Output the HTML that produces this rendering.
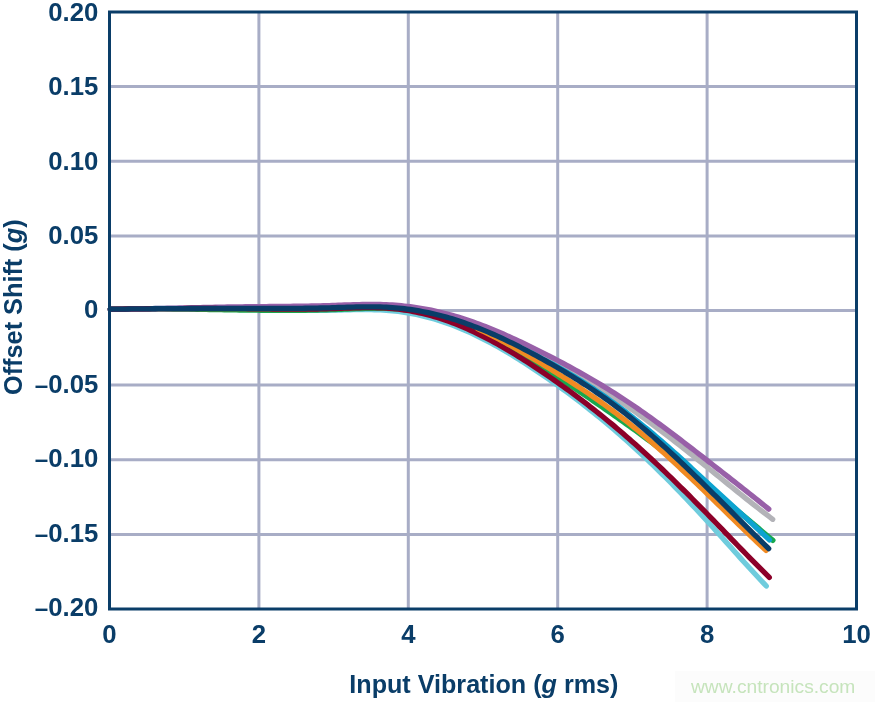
<!DOCTYPE html>
<html lang="en">
<head>
<meta charset="utf-8">
<title>Offset Shift vs Input Vibration</title>
<style>
html,body{margin:0;padding:0;background:#fff;}
body{width:875px;height:702px;overflow:hidden;position:relative;}
svg{position:absolute;left:0;top:0;display:block;}
text{font-family:"Liberation Sans",Arial,Helvetica,sans-serif;font-weight:bold;fill:#0a3d68;}
.wm{font-weight:normal;fill:#c6e4bc;}
</style>
</head>
<body>
<svg width="875" height="702" viewBox="0 0 875 702">
<rect x="0" y="0" width="875" height="702" fill="#ffffff"/>
<rect x="675" y="671" width="200" height="31" fill="#fcfcfc"/>
<g stroke="#a8adc6" stroke-width="3" fill="none">
<line x1="258.9" y1="12.0" x2="258.9" y2="609.0"/>
<line x1="408.3" y1="12.0" x2="408.3" y2="609.0"/>
<line x1="557.7" y1="12.0" x2="557.7" y2="609.0"/>
<line x1="707.1" y1="12.0" x2="707.1" y2="609.0"/>
<line x1="109.5" y1="86.6" x2="856.5" y2="86.6"/>
<line x1="109.5" y1="161.2" x2="856.5" y2="161.2"/>
<line x1="109.5" y1="235.9" x2="856.5" y2="235.9"/>
<line x1="109.5" y1="310.5" x2="856.5" y2="310.5"/>
<line x1="109.5" y1="385.1" x2="856.5" y2="385.1"/>
<line x1="109.5" y1="459.8" x2="856.5" y2="459.8"/>
<line x1="109.5" y1="534.4" x2="856.5" y2="534.4"/>
</g>
<g fill="none" stroke-width="5.3" stroke-linecap="round" stroke-linejoin="round">
<path stroke="#6fccdd" d="M110.3,309.20 L113.3,309.12 L116.3,309.06 L119.3,308.99 L122.3,308.93 L125.3,308.87 L128.3,308.82 L131.3,308.77 L134.3,308.72 L137.3,308.68 L140.3,308.64 L143.3,308.61 L146.3,308.58 L149.3,308.55 L152.3,308.53 L155.3,308.51 L158.3,308.49 L161.3,308.48 L164.3,308.47 L167.3,308.47 L170.3,308.46 L173.3,308.46 L176.3,308.47 L179.3,308.47 L182.3,308.48 L185.3,308.50 L188.3,308.51 L191.3,308.53 L194.3,308.55 L197.3,308.58 L200.3,308.60 L203.3,308.63 L206.3,308.66 L209.3,308.70 L212.3,308.74 L215.3,308.77 L218.3,308.82 L221.3,308.86 L224.3,308.91 L227.3,308.95 L230.3,309.00 L233.3,309.06 L236.3,309.11 L239.3,309.17 L242.3,309.22 L245.3,309.28 L248.3,309.35 L251.3,309.41 L254.3,309.47 L257.3,309.54 L260.3,309.61 L263.3,309.67 L266.3,309.74 L269.3,309.80 L272.3,309.87 L275.3,309.93 L278.3,309.99 L281.3,310.05 L284.3,310.10 L287.3,310.15 L290.3,310.20 L293.3,310.24 L296.3,310.28 L299.3,310.31 L302.3,310.34 L305.3,310.36 L308.3,310.38 L311.3,310.38 L314.3,310.38 L317.3,310.37 L320.3,310.36 L323.3,310.33 L326.3,310.30 L329.3,310.25 L332.3,310.20 L335.3,310.13 L338.3,310.06 L341.3,309.99 L344.3,309.92 L347.3,309.85 L350.3,309.78 L353.3,309.72 L356.3,309.67 L359.3,309.64 L362.3,309.62 L365.3,309.61 L368.3,309.63 L371.3,309.67 L374.3,309.73 L377.3,309.83 L380.3,309.95 L383.3,310.11 L386.3,310.30 L389.3,310.53 L392.3,310.81 L395.3,311.12 L398.3,311.48 L401.3,311.87 L404.3,312.31 L407.3,312.80 L410.3,313.32 L413.3,313.89 L416.3,314.50 L419.3,315.15 L422.3,315.84 L425.3,316.57 L428.3,317.35 L431.3,318.17 L434.3,319.04 L437.3,319.94 L440.3,320.89 L443.3,321.88 L446.3,322.92 L449.3,323.99 L452.3,325.11 L455.3,326.27 L458.3,327.48 L461.3,328.72 L464.3,330.01 L467.3,331.33 L470.3,332.69 L473.3,334.09 L476.3,335.53 L479.3,337.00 L482.3,338.51 L485.3,340.05 L488.3,341.62 L491.3,343.23 L494.3,344.87 L497.3,346.54 L500.3,348.24 L503.3,349.96 L506.3,351.72 L509.3,353.51 L512.3,355.32 L515.3,357.16 L518.3,359.02 L521.3,360.91 L524.3,362.82 L527.3,364.75 L530.3,366.71 L533.3,368.69 L536.3,370.69 L539.3,372.70 L542.3,374.74 L545.3,376.79 L548.3,378.87 L551.3,380.96 L554.3,383.07 L557.3,385.21 L560.3,387.36 L563.3,389.53 L566.3,391.73 L569.3,393.94 L572.3,396.17 L575.3,398.43 L578.3,400.71 L581.3,403.01 L584.3,405.33 L587.3,407.68 L590.3,410.05 L593.3,412.44 L596.3,414.85 L599.3,417.29 L602.3,419.75 L605.3,422.23 L608.3,424.74 L611.3,427.28 L614.3,429.84 L617.3,432.42 L620.3,435.03 L623.3,437.66 L626.3,440.32 L629.3,443.01 L632.3,445.72 L635.3,448.46 L638.3,451.23 L641.3,454.02 L644.3,456.84 L647.3,459.68 L650.3,462.54 L653.3,465.43 L656.3,468.35 L659.3,471.28 L662.3,474.24 L665.3,477.23 L668.3,480.23 L671.3,483.26 L674.3,486.31 L677.3,489.38 L680.3,492.48 L683.3,495.59 L686.3,498.73 L689.3,501.88 L692.3,505.06 L695.3,508.25 L698.3,511.46 L701.3,514.70 L704.3,517.95 L707.3,521.22 L710.3,524.50 L713.3,527.81 L716.3,531.13 L719.3,534.46 L722.3,537.80 L725.3,541.14 L728.3,544.49 L731.3,547.84 L734.3,551.19 L737.3,554.53 L740.3,557.87 L743.3,561.19 L746.3,564.50 L749.3,567.79 L752.3,571.06 L755.3,574.31 L758.3,577.54 L761.3,580.74 L764.3,583.90 L766.3,586.00"/>
<path stroke="#18a84e" d="M110.3,309.10 L113.3,309.05 L116.3,309.00 L119.3,308.96 L122.3,308.93 L125.3,308.90 L128.3,308.87 L131.3,308.85 L134.3,308.84 L137.3,308.83 L140.3,308.82 L143.3,308.82 L146.3,308.83 L149.3,308.83 L152.3,308.84 L155.3,308.86 L158.3,308.87 L161.3,308.89 L164.3,308.92 L167.3,308.94 L170.3,308.97 L173.3,309.00 L176.3,309.04 L179.3,309.07 L182.3,309.11 L185.3,309.15 L188.3,309.19 L191.3,309.24 L194.3,309.28 L197.3,309.33 L200.3,309.37 L203.3,309.42 L206.3,309.47 L209.3,309.52 L212.3,309.57 L215.3,309.61 L218.3,309.66 L221.3,309.71 L224.3,309.76 L227.3,309.81 L230.3,309.86 L233.3,309.90 L236.3,309.95 L239.3,309.99 L242.3,310.03 L245.3,310.08 L248.3,310.12 L251.3,310.15 L254.3,310.19 L257.3,310.22 L260.3,310.25 L263.3,310.28 L266.3,310.30 L269.3,310.33 L272.3,310.34 L275.3,310.36 L278.3,310.37 L281.3,310.37 L284.3,310.38 L287.3,310.37 L290.3,310.36 L293.3,310.35 L296.3,310.33 L299.3,310.31 L302.3,310.28 L305.3,310.24 L308.3,310.20 L311.3,310.15 L314.3,310.09 L317.3,310.03 L320.3,309.95 L323.3,309.87 L326.3,309.79 L329.3,309.69 L332.3,309.59 L335.3,309.48 L338.3,309.37 L341.3,309.25 L344.3,309.13 L347.3,309.01 L350.3,308.89 L353.3,308.78 L356.3,308.68 L359.3,308.58 L362.3,308.50 L365.3,308.42 L368.3,308.36 L371.3,308.32 L374.3,308.29 L377.3,308.29 L380.3,308.31 L383.3,308.35 L386.3,308.41 L389.3,308.51 L392.3,308.63 L395.3,308.79 L398.3,308.97 L401.3,309.19 L404.3,309.45 L407.3,309.74 L410.3,310.07 L413.3,310.44 L416.3,310.85 L419.3,311.30 L422.3,311.80 L425.3,312.33 L428.3,312.92 L431.3,313.55 L434.3,314.22 L437.3,314.95 L440.3,315.73 L443.3,316.56 L446.3,317.45 L449.3,318.38 L452.3,319.38 L455.3,320.43 L458.3,321.53 L461.3,322.68 L464.3,323.89 L467.3,325.14 L470.3,326.44 L473.3,327.79 L476.3,329.17 L479.3,330.60 L482.3,332.07 L485.3,333.58 L488.3,335.12 L491.3,336.70 L494.3,338.31 L497.3,339.96 L500.3,341.63 L503.3,343.34 L506.3,345.06 L509.3,346.82 L512.3,348.60 L515.3,350.39 L518.3,352.21 L521.3,354.05 L524.3,355.90 L527.3,357.77 L530.3,359.65 L533.3,361.55 L536.3,363.45 L539.3,365.36 L542.3,367.28 L545.3,369.21 L548.3,371.14 L551.3,373.07 L554.3,375.02 L557.3,376.97 L560.3,378.93 L563.3,380.89 L566.3,382.86 L569.3,384.84 L572.3,386.83 L575.3,388.82 L578.3,390.83 L581.3,392.84 L584.3,394.85 L587.3,396.88 L590.3,398.91 L593.3,400.95 L596.3,403.00 L599.3,405.06 L602.3,407.13 L605.3,409.21 L608.3,411.29 L611.3,413.38 L614.3,415.49 L617.3,417.60 L620.3,419.72 L623.3,421.85 L626.3,423.99 L629.3,426.14 L632.3,428.30 L635.3,430.47 L638.3,432.65 L641.3,434.84 L644.3,437.04 L647.3,439.25 L650.3,441.47 L653.3,443.70 L656.3,445.94 L659.3,448.20 L662.3,450.46 L665.3,452.73 L668.3,455.01 L671.3,457.31 L674.3,459.61 L677.3,461.93 L680.3,464.25 L683.3,466.59 L686.3,468.94 L689.3,471.30 L692.3,473.67 L695.3,476.05 L698.3,478.44 L701.3,480.85 L704.3,483.26 L707.3,485.69 L710.3,488.13 L713.3,490.58 L716.3,493.04 L719.3,495.51 L722.3,497.99 L725.3,500.48 L728.3,502.97 L731.3,505.47 L734.3,507.98 L737.3,510.49 L740.3,513.01 L743.3,515.53 L746.3,518.05 L749.3,520.58 L752.3,523.10 L755.3,525.63 L758.3,528.15 L761.3,530.68 L764.3,533.20 L767.3,535.71 L770.3,538.23 L772.9,540.40"/>
<path stroke="#b3b3b8" d="M110.3,309.21 L113.3,309.19 L116.3,309.16 L119.3,309.13 L122.3,309.11 L125.3,309.08 L128.3,309.06 L131.3,309.03 L134.3,309.01 L137.3,308.98 L140.3,308.95 L143.3,308.93 L146.3,308.90 L149.3,308.88 L152.3,308.85 L155.3,308.82 L158.3,308.80 L161.3,308.77 L164.3,308.75 L167.3,308.72 L170.3,308.69 L173.3,308.67 L176.3,308.64 L179.3,308.61 L182.3,308.59 L185.3,308.56 L188.3,308.54 L191.3,308.51 L194.3,308.48 L197.3,308.46 L200.3,308.43 L203.3,308.40 L206.3,308.38 L209.3,308.35 L212.3,308.32 L215.3,308.30 L218.3,308.27 L221.3,308.24 L224.3,308.21 L227.3,308.19 L230.3,308.16 L233.3,308.13 L236.3,308.11 L239.3,308.08 L242.3,308.05 L245.3,308.02 L248.3,308.00 L251.3,307.97 L254.3,307.94 L257.3,307.91 L260.3,307.89 L263.3,307.86 L266.3,307.83 L269.3,307.79 L272.3,307.76 L275.3,307.73 L278.3,307.69 L281.3,307.65 L284.3,307.61 L287.3,307.57 L290.3,307.52 L293.3,307.47 L296.3,307.42 L299.3,307.37 L302.3,307.31 L305.3,307.25 L308.3,307.18 L311.3,307.11 L314.3,307.04 L317.3,306.96 L320.3,306.87 L323.3,306.79 L326.3,306.69 L329.3,306.59 L332.3,306.49 L335.3,306.38 L338.3,306.27 L341.3,306.16 L344.3,306.05 L347.3,305.94 L350.3,305.84 L353.3,305.75 L356.3,305.67 L359.3,305.60 L362.3,305.54 L365.3,305.50 L368.3,305.47 L371.3,305.46 L374.3,305.48 L377.3,305.52 L380.3,305.58 L383.3,305.67 L386.3,305.79 L389.3,305.94 L392.3,306.12 L395.3,306.34 L398.3,306.59 L401.3,306.87 L404.3,307.18 L407.3,307.53 L410.3,307.91 L413.3,308.33 L416.3,308.78 L419.3,309.26 L422.3,309.77 L425.3,310.32 L428.3,310.90 L431.3,311.52 L434.3,312.16 L437.3,312.84 L440.3,313.56 L443.3,314.30 L446.3,315.08 L449.3,315.89 L452.3,316.74 L455.3,317.61 L458.3,318.52 L461.3,319.47 L464.3,320.44 L467.3,321.44 L470.3,322.47 L473.3,323.53 L476.3,324.62 L479.3,325.74 L482.3,326.88 L485.3,328.05 L488.3,329.25 L491.3,330.48 L494.3,331.72 L497.3,333.00 L500.3,334.30 L503.3,335.62 L506.3,336.96 L509.3,338.32 L512.3,339.71 L515.3,341.12 L518.3,342.55 L521.3,344.00 L524.3,345.47 L527.3,346.95 L530.3,348.46 L533.3,349.98 L536.3,351.52 L539.3,353.08 L542.3,354.65 L545.3,356.24 L548.3,357.85 L551.3,359.47 L554.3,361.10 L557.3,362.76 L560.3,364.43 L563.3,366.12 L566.3,367.82 L569.3,369.54 L572.3,371.28 L575.3,373.03 L578.3,374.81 L581.3,376.60 L584.3,378.40 L587.3,380.23 L590.3,382.07 L593.3,383.93 L596.3,385.81 L599.3,387.71 L602.3,389.63 L605.3,391.56 L608.3,393.51 L611.3,395.49 L614.3,397.48 L617.3,399.49 L620.3,401.52 L623.3,403.56 L626.3,405.63 L629.3,407.72 L632.3,409.83 L635.3,411.95 L638.3,414.10 L641.3,416.26 L644.3,418.44 L647.3,420.64 L650.3,422.85 L653.3,425.08 L656.3,427.33 L659.3,429.59 L662.3,431.86 L665.3,434.15 L668.3,436.45 L671.3,438.77 L674.3,441.09 L677.3,443.43 L680.3,445.78 L683.3,448.13 L686.3,450.50 L689.3,452.88 L692.3,455.26 L695.3,457.66 L698.3,460.06 L701.3,462.47 L704.3,464.88 L707.3,467.30 L710.3,469.73 L713.3,472.16 L716.3,474.59 L719.3,477.02 L722.3,479.46 L725.3,481.89 L728.3,484.33 L731.3,486.76 L734.3,489.18 L737.3,491.60 L740.3,494.02 L743.3,496.42 L746.3,498.82 L749.3,501.20 L752.3,503.58 L755.3,505.94 L758.3,508.28 L761.3,510.61 L764.3,512.93 L767.3,515.22 L770.3,517.50 L772.7,519.30"/>
<path stroke="#9860a8" d="M110.3,309.38 L113.3,309.33 L116.3,309.28 L119.3,309.23 L122.3,309.17 L125.3,309.12 L128.3,309.06 L131.3,309.01 L134.3,308.95 L137.3,308.89 L140.3,308.83 L143.3,308.77 L146.3,308.70 L149.3,308.64 L152.3,308.58 L155.3,308.51 L158.3,308.45 L161.3,308.38 L164.3,308.32 L167.3,308.25 L170.3,308.18 L173.3,308.12 L176.3,308.05 L179.3,307.98 L182.3,307.92 L185.3,307.85 L188.3,307.79 L191.3,307.72 L194.3,307.66 L197.3,307.60 L200.3,307.53 L203.3,307.47 L206.3,307.41 L209.3,307.35 L212.3,307.29 L215.3,307.24 L218.3,307.18 L221.3,307.13 L224.3,307.07 L227.3,307.02 L230.3,306.97 L233.3,306.92 L236.3,306.88 L239.3,306.83 L242.3,306.79 L245.3,306.75 L248.3,306.71 L251.3,306.68 L254.3,306.65 L257.3,306.62 L260.3,306.59 L263.3,306.56 L266.3,306.53 L269.3,306.50 L272.3,306.48 L275.3,306.45 L278.3,306.42 L281.3,306.39 L284.3,306.36 L287.3,306.33 L290.3,306.30 L293.3,306.26 L296.3,306.23 L299.3,306.19 L302.3,306.14 L305.3,306.09 L308.3,306.04 L311.3,305.99 L314.3,305.92 L317.3,305.86 L320.3,305.79 L323.3,305.71 L326.3,305.63 L329.3,305.54 L332.3,305.44 L335.3,305.34 L338.3,305.24 L341.3,305.13 L344.3,305.02 L347.3,304.92 L350.3,304.82 L353.3,304.73 L356.3,304.65 L359.3,304.57 L362.3,304.51 L365.3,304.47 L368.3,304.44 L371.3,304.42 L374.3,304.43 L377.3,304.46 L380.3,304.52 L383.3,304.60 L386.3,304.71 L389.3,304.85 L392.3,305.02 L395.3,305.22 L398.3,305.45 L401.3,305.72 L404.3,306.02 L407.3,306.36 L410.3,306.72 L413.3,307.12 L416.3,307.56 L419.3,308.02 L422.3,308.52 L425.3,309.05 L428.3,309.62 L431.3,310.22 L434.3,310.85 L437.3,311.52 L440.3,312.22 L443.3,312.95 L446.3,313.72 L449.3,314.52 L452.3,315.35 L455.3,316.22 L458.3,317.12 L461.3,318.06 L464.3,319.02 L467.3,320.02 L470.3,321.04 L473.3,322.10 L476.3,323.18 L479.3,324.29 L482.3,325.42 L485.3,326.58 L488.3,327.77 L491.3,328.98 L494.3,330.22 L497.3,331.47 L500.3,332.75 L503.3,334.05 L506.3,335.38 L509.3,336.72 L512.3,338.08 L515.3,339.45 L518.3,340.85 L521.3,342.26 L524.3,343.69 L527.3,345.13 L530.3,346.59 L533.3,348.06 L536.3,349.55 L539.3,351.04 L542.3,352.55 L545.3,354.07 L548.3,355.60 L551.3,357.15 L554.3,358.70 L557.3,360.27 L560.3,361.85 L563.3,363.45 L566.3,365.06 L569.3,366.69 L572.3,368.33 L575.3,369.98 L578.3,371.65 L581.3,373.34 L584.3,375.05 L587.3,376.77 L590.3,378.51 L593.3,380.26 L596.3,382.04 L599.3,383.83 L602.3,385.64 L605.3,387.47 L608.3,389.32 L611.3,391.19 L614.3,393.09 L617.3,395.00 L620.3,396.93 L623.3,398.89 L626.3,400.86 L629.3,402.86 L632.3,404.88 L635.3,406.93 L638.3,408.99 L641.3,411.08 L644.3,413.19 L647.3,415.31 L650.3,417.46 L653.3,419.62 L656.3,421.79 L659.3,423.99 L662.3,426.19 L665.3,428.42 L668.3,430.65 L671.3,432.90 L674.3,435.16 L677.3,437.43 L680.3,439.71 L683.3,442.00 L686.3,444.30 L689.3,446.60 L692.3,448.91 L695.3,451.23 L698.3,453.55 L701.3,455.88 L704.3,458.21 L707.3,460.55 L710.3,462.88 L713.3,465.22 L716.3,467.56 L719.3,469.90 L722.3,472.24 L725.3,474.59 L728.3,476.94 L731.3,479.29 L734.3,481.64 L737.3,484.00 L740.3,486.37 L743.3,488.74 L746.3,491.11 L749.3,493.49 L752.3,495.87 L755.3,498.27 L758.3,500.66 L761.3,503.07 L764.3,505.48 L767.3,507.90 L768.8,509.12"/>
<path stroke="#8c0029" d="M110.3,309.21 L113.3,309.16 L116.3,309.12 L119.3,309.08 L122.3,309.03 L125.3,308.99 L128.3,308.96 L131.3,308.92 L134.3,308.88 L137.3,308.85 L140.3,308.82 L143.3,308.79 L146.3,308.76 L149.3,308.73 L152.3,308.70 L155.3,308.68 L158.3,308.65 L161.3,308.63 L164.3,308.61 L167.3,308.59 L170.3,308.58 L173.3,308.56 L176.3,308.55 L179.3,308.54 L182.3,308.53 L185.3,308.52 L188.3,308.51 L191.3,308.50 L194.3,308.50 L197.3,308.50 L200.3,308.50 L203.3,308.50 L206.3,308.50 L209.3,308.51 L212.3,308.51 L215.3,308.52 L218.3,308.53 L221.3,308.54 L224.3,308.56 L227.3,308.57 L230.3,308.59 L233.3,308.61 L236.3,308.63 L239.3,308.65 L242.3,308.67 L245.3,308.70 L248.3,308.73 L251.3,308.76 L254.3,308.79 L257.3,308.82 L260.3,308.85 L263.3,308.89 L266.3,308.92 L269.3,308.95 L272.3,308.98 L275.3,309.01 L278.3,309.04 L281.3,309.06 L284.3,309.08 L287.3,309.10 L290.3,309.12 L293.3,309.12 L296.3,309.13 L299.3,309.13 L302.3,309.12 L305.3,309.11 L308.3,309.09 L311.3,309.06 L314.3,309.03 L317.3,308.98 L320.3,308.93 L323.3,308.87 L326.3,308.80 L329.3,308.72 L332.3,308.63 L335.3,308.53 L338.3,308.42 L341.3,308.31 L344.3,308.20 L347.3,308.09 L350.3,307.99 L353.3,307.89 L356.3,307.81 L359.3,307.74 L362.3,307.68 L365.3,307.64 L368.3,307.63 L371.3,307.64 L374.3,307.67 L377.3,307.73 L380.3,307.83 L383.3,307.96 L386.3,308.13 L389.3,308.33 L392.3,308.58 L395.3,308.88 L398.3,309.22 L401.3,309.60 L404.3,310.02 L407.3,310.49 L410.3,311.00 L413.3,311.55 L416.3,312.15 L419.3,312.79 L422.3,313.47 L425.3,314.20 L428.3,314.97 L431.3,315.78 L434.3,316.64 L437.3,317.54 L440.3,318.48 L443.3,319.47 L446.3,320.50 L449.3,321.57 L452.3,322.69 L455.3,323.84 L458.3,325.04 L461.3,326.28 L464.3,327.56 L467.3,328.88 L470.3,330.24 L473.3,331.63 L476.3,333.06 L479.3,334.53 L482.3,336.03 L485.3,337.56 L488.3,339.13 L491.3,340.73 L494.3,342.36 L497.3,344.02 L500.3,345.71 L503.3,347.43 L506.3,349.18 L509.3,350.95 L512.3,352.75 L515.3,354.58 L518.3,356.43 L521.3,358.30 L524.3,360.20 L527.3,362.11 L530.3,364.05 L533.3,366.01 L536.3,367.99 L539.3,369.99 L542.3,372.00 L545.3,374.03 L548.3,376.08 L551.3,378.15 L554.3,380.24 L557.3,382.34 L560.3,384.47 L563.3,386.61 L566.3,388.77 L569.3,390.95 L572.3,393.15 L575.3,395.37 L578.3,397.62 L581.3,399.88 L584.3,402.16 L587.3,404.46 L590.3,406.78 L593.3,409.13 L596.3,411.50 L599.3,413.88 L602.3,416.29 L605.3,418.72 L608.3,421.18 L611.3,423.66 L614.3,426.16 L617.3,428.68 L620.3,431.23 L623.3,433.80 L626.3,436.39 L629.3,439.01 L632.3,441.65 L635.3,444.31 L638.3,447.00 L641.3,449.71 L644.3,452.45 L647.3,455.20 L650.3,457.98 L653.3,460.78 L656.3,463.59 L659.3,466.43 L662.3,469.29 L665.3,472.16 L668.3,475.05 L671.3,477.96 L674.3,480.88 L677.3,483.82 L680.3,486.78 L683.3,489.75 L686.3,492.74 L689.3,495.74 L692.3,498.75 L695.3,501.77 L698.3,504.81 L701.3,507.86 L704.3,510.92 L707.3,513.99 L710.3,517.07 L713.3,520.16 L716.3,523.26 L719.3,526.36 L722.3,529.46 L725.3,532.57 L728.3,535.68 L731.3,538.79 L734.3,541.90 L737.3,545.00 L740.3,548.10 L743.3,551.19 L746.3,554.27 L749.3,557.34 L752.3,560.39 L755.3,563.44 L758.3,566.46 L761.3,569.47 L764.3,572.46 L767.3,575.43 L769.3,577.40"/>
<path stroke="#0da3d0" d="M530.0,352.31 L533.0,353.91 L536.0,355.53 L539.0,357.17 L542.0,358.80 L545.0,360.35 L548.0,361.87 L551.0,363.38 L554.0,364.92 L557.0,366.55 L560.0,368.24 L563.0,369.95 L566.0,371.70 L569.0,373.47 L572.0,375.27 L575.0,377.10 L578.0,378.94 L581.0,380.82 L584.0,382.72 L587.0,384.64 L590.0,386.60 L593.0,388.58 L596.0,390.59 L599.0,392.63 L602.0,394.69 L605.0,396.78 L608.0,398.89 L611.0,401.04 L614.0,403.21 L617.0,405.42 L620.0,407.65 L623.0,409.91 L626.0,412.20 L629.0,414.52 L632.0,416.87 L635.0,419.23 L638.0,421.61 L641.0,424.01 L644.0,426.44 L647.0,428.89 L650.0,431.37 L653.0,433.88 L656.0,436.42 L659.0,438.99 L662.0,441.58 L665.0,444.19 L668.0,446.82 L671.0,449.48 L674.0,452.15 L677.0,454.84 L680.0,457.55 L683.0,460.28 L686.0,463.03 L689.0,465.79 L692.0,468.57 L695.0,471.35 L698.0,474.15 L701.0,476.94 L704.0,479.74 L707.0,482.53 L710.0,485.29 L713.0,488.04 L716.0,490.77 L719.0,493.50 L722.0,496.26 L725.0,499.01 L728.0,501.77 L731.0,504.53 L734.0,507.28 L737.0,510.02 L740.0,512.76 L743.0,515.46 L746.0,518.15 L749.0,520.87 L752.0,523.64 L755.0,526.45 L758.0,529.26 L761.0,532.06 L764.0,534.83 L767.0,537.61 L769.4,539.87"/>
<path stroke="#f08a22" d="M478.0,328.91 L481.0,330.28 L484.0,331.69 L487.0,333.14 L490.0,334.61 L493.0,336.12 L496.0,337.66 L499.0,339.23 L502.0,340.82 L505.0,342.44 L508.0,344.08 L511.0,345.74 L514.0,347.43 L517.0,349.14 L520.0,350.86 L523.0,352.60 L526.0,354.36 L529.0,356.13 L532.0,357.91 L535.0,359.71 L538.0,361.51 L541.0,363.33 L544.0,365.15 L547.0,366.98 L550.0,368.81 L553.0,370.66 L556.0,372.52 L559.0,374.39 L562.0,376.28 L565.0,378.17 L568.0,380.08 L571.0,382.01 L574.0,383.95 L577.0,385.91 L580.0,387.89 L583.0,389.88 L586.0,391.89 L589.0,393.93 L592.0,395.98 L595.0,398.05 L598.0,400.15 L601.0,402.27 L604.0,404.41 L607.0,406.58 L610.0,408.78 L613.0,411.00 L616.0,413.25 L619.0,415.52 L622.0,417.83 L625.0,420.16 L628.0,422.52 L631.0,424.92 L634.0,427.35 L637.0,429.80 L640.0,432.29 L643.0,434.81 L646.0,437.35 L649.0,439.92 L652.0,442.52 L655.0,445.14 L658.0,447.78 L661.0,450.45 L664.0,453.14 L667.0,455.85 L670.0,458.58 L673.0,461.33 L676.0,464.10 L679.0,466.89 L682.0,469.69 L685.0,472.51 L688.0,475.34 L691.0,478.19 L694.0,481.05 L697.0,483.92 L700.0,486.80 L703.0,489.69 L706.0,492.59 L709.0,495.50 L712.0,498.42 L715.0,501.34 L718.0,504.27 L721.0,507.20 L724.0,510.13 L727.0,513.06 L730.0,515.98 L733.0,518.91 L736.0,521.83 L739.0,524.74 L742.0,527.65 L745.0,530.54 L748.0,533.42 L751.0,536.30 L754.0,539.15 L757.0,541.99 L760.0,544.81 L763.0,547.62 L766.0,550.40"/>
<path stroke="#0a3d68" d="M110.3,309.22 L113.3,309.18 L116.3,309.14 L119.3,309.11 L122.3,309.07 L125.3,309.04 L128.3,309.00 L131.3,308.97 L134.3,308.94 L137.3,308.91 L140.3,308.88 L143.3,308.85 L146.3,308.82 L149.3,308.79 L152.3,308.77 L155.3,308.74 L158.3,308.72 L161.3,308.69 L164.3,308.67 L167.3,308.65 L170.3,308.63 L173.3,308.61 L176.3,308.59 L179.3,308.57 L182.3,308.55 L185.3,308.54 L188.3,308.52 L191.3,308.51 L194.3,308.49 L197.3,308.48 L200.3,308.47 L203.3,308.46 L206.3,308.45 L209.3,308.44 L212.3,308.43 L215.3,308.42 L218.3,308.42 L221.3,308.41 L224.3,308.40 L227.3,308.40 L230.3,308.40 L233.3,308.39 L236.3,308.39 L239.3,308.39 L242.3,308.39 L245.3,308.39 L248.3,308.39 L251.3,308.39 L254.3,308.40 L257.3,308.40 L260.3,308.40 L263.3,308.40 L266.3,308.41 L269.3,308.41 L272.3,308.41 L275.3,308.41 L278.3,308.40 L281.3,308.40 L284.3,308.39 L287.3,308.38 L290.3,308.37 L293.3,308.35 L296.3,308.33 L299.3,308.31 L302.3,308.28 L305.3,308.24 L308.3,308.21 L311.3,308.16 L314.3,308.12 L317.3,308.06 L320.3,308.00 L323.3,307.93 L326.3,307.86 L329.3,307.78 L332.3,307.70 L335.3,307.60 L338.3,307.51 L341.3,307.41 L344.3,307.31 L347.3,307.22 L350.3,307.13 L353.3,307.05 L356.3,306.97 L359.3,306.91 L362.3,306.86 L365.3,306.83 L368.3,306.81 L371.3,306.82 L374.3,306.84 L377.3,306.89 L380.3,306.97 L383.3,307.07 L386.3,307.20 L389.3,307.37 L392.3,307.57 L395.3,307.80 L398.3,308.07 L401.3,308.38 L404.3,308.72 L407.3,309.09 L410.3,309.50 L413.3,309.95 L416.3,310.43 L419.3,310.94 L422.3,311.49 L425.3,312.07 L428.3,312.69 L431.3,313.35 L434.3,314.04 L437.3,314.76 L440.3,315.52 L443.3,316.31 L446.3,317.14 L449.3,318.00 L452.3,318.90 L455.3,319.83 L458.3,320.80 L461.3,321.80 L464.3,322.83 L467.3,323.89 L470.3,324.99 L473.3,326.11 L476.3,327.27 L479.3,328.45 L482.3,329.67 L485.3,330.91 L488.3,332.18 L491.3,333.47 L494.3,334.79 L497.3,336.14 L500.3,337.51 L503.3,338.91 L506.3,340.33 L509.3,341.77 L512.3,343.24 L515.3,344.73 L518.3,346.24 L521.3,347.76 L524.3,349.31 L527.3,350.88 L530.3,352.47 L533.3,354.07 L536.3,355.69 L539.3,357.33 L542.3,358.99 L545.3,360.66 L548.3,362.35 L551.3,364.05 L554.3,365.78 L557.3,367.52 L560.3,369.28 L563.3,371.07 L566.3,372.87 L569.3,374.70 L572.3,376.54 L575.3,378.41 L578.3,380.31 L581.3,382.22 L584.3,384.16 L587.3,386.13 L590.3,388.12 L593.3,390.14 L596.3,392.19 L599.3,394.26 L602.3,396.36 L605.3,398.49 L608.3,400.65 L611.3,402.84 L614.3,405.06 L617.3,407.31 L620.3,409.59 L623.3,411.91 L626.3,414.26 L629.3,416.64 L632.3,419.06 L635.3,421.51 L638.3,423.99 L641.3,426.51 L644.3,429.05 L647.3,431.63 L650.3,434.23 L653.3,436.87 L656.3,439.53 L659.3,442.21 L662.3,444.92 L665.3,447.65 L668.3,450.41 L671.3,453.18 L674.3,455.98 L677.3,458.80 L680.3,461.63 L683.3,464.49 L686.3,467.36 L689.3,470.24 L692.3,473.14 L695.3,476.06 L698.3,478.98 L701.3,481.92 L704.3,484.87 L707.3,487.82 L710.3,490.79 L713.3,493.76 L716.3,496.74 L719.3,499.72 L722.3,502.71 L725.3,505.70 L728.3,508.69 L731.3,511.69 L734.3,514.68 L737.3,517.67 L740.3,520.66 L743.3,523.64 L746.3,526.62 L749.3,529.59 L752.3,532.56 L755.3,535.52 L758.3,538.47 L761.3,541.40 L764.3,544.33 L767.3,547.24 L768.7,548.60"/>
</g>
<rect x="109.5" y="12.0" width="747.0" height="597.0" fill="none" stroke="#0a3d68" stroke-width="3"/>
<g font-size="25" text-anchor="end">
<text transform="translate(98.3,20.8) scale(1.03,1)">0.20</text>
<text transform="translate(98.3,95.2) scale(1.03,1)">0.15</text>
<text transform="translate(98.3,169.6) scale(1.03,1)">0.10</text>
<text transform="translate(98.3,244.0) scale(1.03,1)">0.05</text>
<text transform="translate(98.3,318.4) scale(1.03,1)">0</text>
<text transform="translate(98.3,392.8) scale(1.03,1)"><tspan font-size="23.5" dy="0.1">–</tspan><tspan dy="-0.1">0.05</tspan></text>
<text transform="translate(98.3,467.2) scale(1.03,1)"><tspan font-size="23.5" dy="0.1">–</tspan><tspan dy="-0.1">0.10</tspan></text>
<text transform="translate(98.3,541.6) scale(1.03,1)"><tspan font-size="23.5" dy="0.1">–</tspan><tspan dy="-0.1">0.15</tspan></text>
<text transform="translate(98.3,616.0) scale(1.03,1)"><tspan font-size="23.5" dy="0.1">–</tspan><tspan dy="-0.1">0.20</tspan></text>
</g>
<g font-size="25" text-anchor="middle">
<text transform="translate(109.5,643.2) scale(1.03,1)">0</text>
<text transform="translate(258.9,643.2) scale(1.03,1)">2</text>
<text transform="translate(408.3,643.2) scale(1.03,1)">4</text>
<text transform="translate(557.7,643.2) scale(1.03,1)">6</text>
<text transform="translate(707.1,643.2) scale(1.03,1)">8</text>
<text transform="translate(856.5,643.2) scale(1.03,1)">10</text>
</g>
<text font-size="25" transform="translate(349.3,693) scale(1.006,1)">Input Vibration (<tspan font-style="italic">g</tspan> rms)</text>
<text font-size="25" transform="translate(22,395) rotate(-90) scale(1.012,1)">Offset Shift (<tspan font-style="italic">g</tspan>)</text>
<text class="wm" font-size="19" transform="translate(691,692.5) scale(1.012,1.01)">www.cntronics.com</text>
</svg>
</body>
</html>
